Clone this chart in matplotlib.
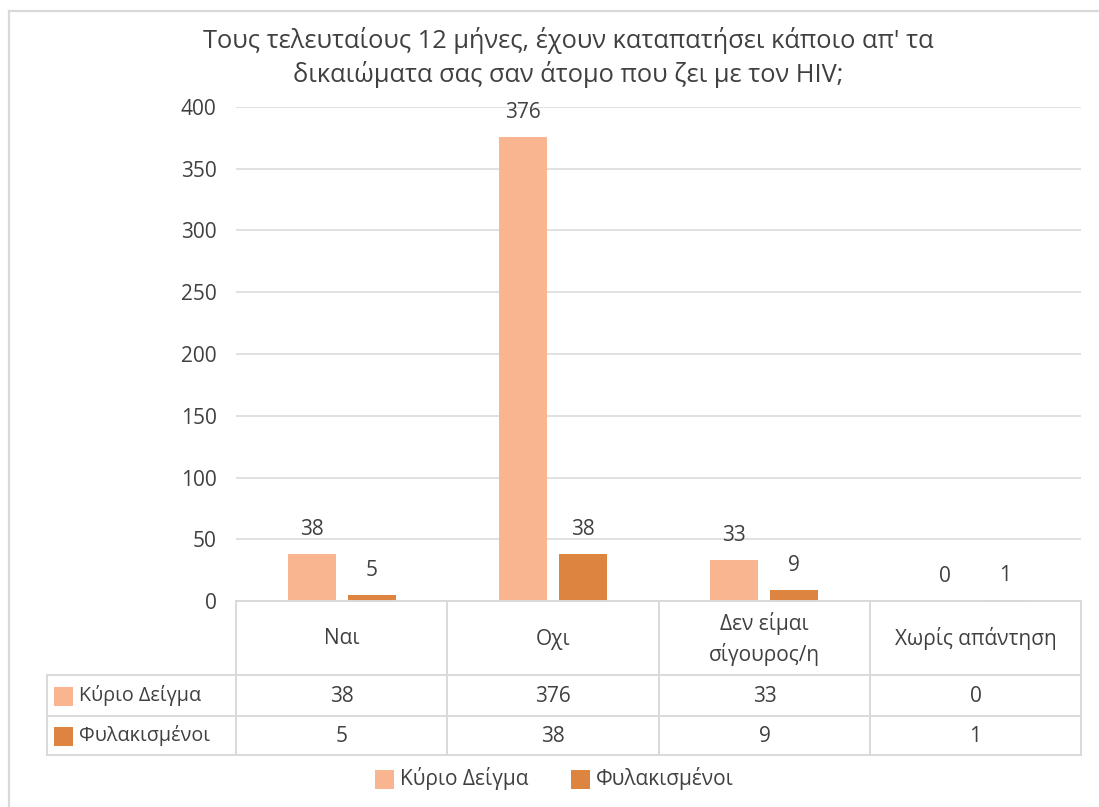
import matplotlib
matplotlib.use("Agg")
import matplotlib.pyplot as plt
from matplotlib.patches import Rectangle
from matplotlib.lines import Line2D

plt.rcParams['font.family'] = ['Open Sans', 'DejaVu Sans']

# ---- data ----
title = "Τους τελευταίους 12 μήνες, έχουν καταπατήσει κάποιο απ' τα\nδικαιώματα σας σαν άτομο που ζει με τον HIV;"
categories = ["Ναι", "Οχι", "Δεν είμαι\nσίγουρος/η", "Χωρίς απάντηση"]
series_names = ["Κύριο Δείγμα", "Φυλακισμένοι"]
main_sample = [38, 376, 33, 0]
prisoners = [5, 38, 9, 1]
y_ticks = [0, 50, 100, 150, 200, 250, 300, 350, 400]

# ---- style ----
W, H = 1099, 807
C_LIGHT = "#F8B590"
C_DARK = "#DD8440"
TXT = "#404040"
GRID = "#D9D9D9"
FS = 15

fig = plt.figure(figsize=(W / 100, H / 100), dpi=100)


def fx(px):
    return px / W


def fy(py):
    return 1 - py / H


# plot area in pixel coordinates
x0, x1 = 236, 1081
y_top, y_bot = 107, 601
ax = fig.add_axes([fx(x0), fy(y_bot), fx(x1) - fx(x0), fy(y_top) - fy(y_bot)])
ax.set_xlim(-0.5, len(categories) - 0.5)
ax.set_ylim(0, 400)

bw = 0.227
off = 0.142
xs = range(len(categories))
for i in xs:
    ax.bar(i - off, main_sample[i], width=bw, color=C_LIGHT, zorder=3)
    ax.bar(i + off, prisoners[i], width=bw, color=C_DARK, zorder=3)
    ax.annotate(str(main_sample[i]), (i - off, main_sample[i]), xytext=(0, 17.5),
                textcoords="offset points", ha="center", va="center",
                fontsize=FS, color=TXT)
    ax.annotate(str(prisoners[i]), (i + off, prisoners[i]), xytext=(0, 17.5),
                textcoords="offset points", ha="center", va="center",
                fontsize=FS, color=TXT)

ax.set_yticks(y_ticks)
ax.set_yticklabels([str(v) for v in y_ticks], fontsize=FS, color=TXT)
ax.tick_params(axis="y", length=0, pad=14)
ax.set_xticks([])
ax.yaxis.grid(True, color=GRID, linewidth=1.1, zorder=0)
for s in ax.spines.values():
    s.set_visible(False)
ax.set_facecolor("none")

# title
fig.text(fx(568), fy(57.5), title, ha="center", va="center", fontsize=18.3,
         color=TXT, linespacing=1.36)

# ---- data table under the plot ----
col_edges = [236, 447, 659, 870, 1081]
row_label_x0 = 47
h_top, h_bot, r1_bot, r2_bot = 601, 675, 716, 755
lw_t = 1.4


def hline(xa, xb, yv):
    fig.add_artist(Line2D([fx(xa), fx(xb)], [fy(yv), fy(yv)], color=GRID,
                          lw=lw_t, transform=fig.transFigure))


def vline(xv, ya, yb):
    fig.add_artist(Line2D([fx(xv), fx(xv)], [fy(ya), fy(yb)], color=GRID,
                          lw=lw_t, transform=fig.transFigure))


hline(col_edges[0], col_edges[-1], h_top)
hline(row_label_x0, col_edges[-1], h_bot)
hline(row_label_x0, col_edges[-1], r1_bot)
hline(row_label_x0, col_edges[-1], r2_bot)
for xe in col_edges:
    vline(xe, h_top, r2_bot)
vline(row_label_x0, h_bot, r2_bot)

for j, cat in enumerate(categories):
    cx = (col_edges[j] + col_edges[j + 1]) / 2
    fig.text(fx(cx), fy(639), cat, ha="center", va="center", fontsize=FS,
             color=TXT, linespacing=1.4)
    fig.text(fx(cx), fy(696), str(main_sample[j]), ha="center", va="center",
             fontsize=FS, color=TXT)
    fig.text(fx(cx), fy(736), str(prisoners[j]), ha="center", va="center",
             fontsize=FS, color=TXT)

sq = 19
for (name, col, yc) in [(series_names[0], C_LIGHT, 696), (series_names[1], C_DARK, 736)]:
    fig.add_artist(Rectangle((fx(54), fy(yc + sq / 2)), sq / W, sq / H,
                             facecolor=col, edgecolor="none",
                             transform=fig.transFigure))
    fig.text(fx(79), fy(yc), name, ha="left", va="center", fontsize=14.2,
             color=TXT)

# ---- legend ----
for (name, col, px) in [(series_names[0], C_LIGHT, 375), (series_names[1], C_DARK, 571)]:
    fig.add_artist(Rectangle((fx(px), fy(779 + sq / 2)), sq / W, sq / H,
                             facecolor=col, edgecolor="none",
                             transform=fig.transFigure))
    fig.text(fx(px + 25), fy(779), name, ha="left", va="center",
             fontsize=FS, color=TXT)

# chart frame
fig.add_artist(Line2D([fx(9), fx(9)], [fy(11), 0], color=GRID, lw=1.6,
                      transform=fig.transFigure))
fig.add_artist(Line2D([fx(9), 1], [fy(11), fy(11)], color=GRID, lw=1.6,
                      transform=fig.transFigure))

fig.savefig("out.png", dpi=100, facecolor="white")
